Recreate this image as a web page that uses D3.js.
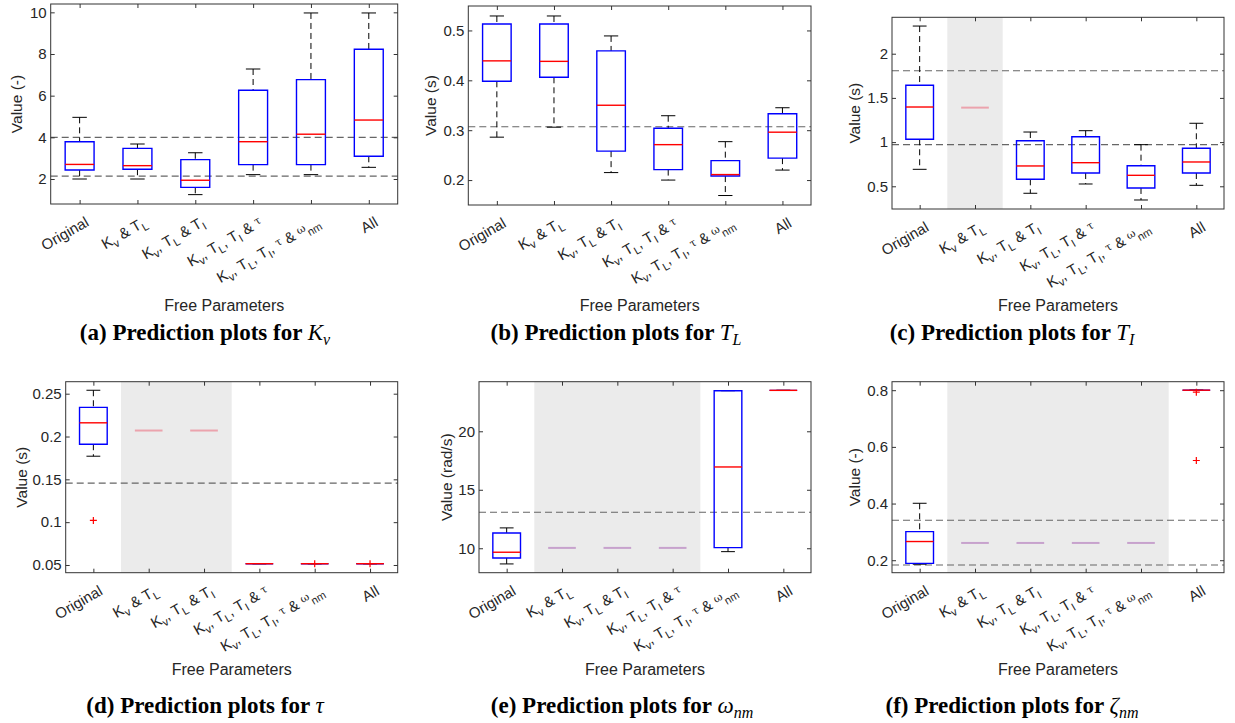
<!DOCTYPE html>
<html>
<head>
<meta charset="utf-8">
<script src="https://cdn.jsdelivr.net/npm/d3@7"></script>
<style>
  body { margin: 0; background: #fff; }
  svg { display: block; font-family: "Liberation Sans", Arial, sans-serif; }
  .axis path, .axis line { stroke: #333; }
  .axis text { fill: #262626; font-size: 15px; }
</style>
</head>
<body>
<script>
// categories shared by every panel
var categories = ["Original", "K_v & T_L", "K_v, T_L & T_I", "K_v, T_L, T_I & τ",
                  "K_v, T_L, T_I, τ & ω_{nm}", "All"];

// (a) K_v
var kvLo  = [2.00, 2.00, 1.25, 2.21, 2.21, 2.56];
var kvQ1  = [2.43, 2.47, 1.60, 2.69, 2.69, 3.09];
var kvMed = [2.70, 2.64, 1.94, 3.79, 4.15, 4.83];
var kvQ3  = [3.79, 3.47, 2.93, 6.26, 6.77, 8.23];
var kvHi  = [4.96, 3.68, 3.26, 7.28, 9.97, 9.97];
var kvRef = [4.0, 2.14];
var kvTicks = [2, 4, 6, 8, 10];

// (b) T_L
var tlLo  = [0.286, 0.306, 0.215, 0.200, 0.169, 0.220];
var tlQ1  = [0.398, 0.406, 0.258, 0.221, 0.208, 0.244];
var tlMed = [0.439, 0.438, 0.350, 0.271, 0.211, 0.296];
var tlQ3  = [0.513, 0.513, 0.459, 0.304, 0.239, 0.333];
var tlHi  = [0.529, 0.529, 0.489, 0.329, 0.277, 0.345];
var tlRef = [0.307];
var tlTicks = [0.2, 0.3, 0.4, 0.5];

// (c) T_I
var tiLo  = [0.692, 1.390, 0.421, 0.526, 0.345, 0.511];
var tiQ1  = [1.032, 1.390, 0.579, 0.650, 0.481, 0.650];
var tiMed = [1.397, 1.390, 0.730, 0.767, 0.624, 0.775];
var tiQ3  = [1.643, 1.390, 1.016, 1.061, 0.733, 0.930];
var tiHi  = [2.313, 1.390, 1.114, 1.129, 0.971, 1.213];
var tiRef = [1.808, 0.971];
var tiTicks = [0.5, 1, 1.5, 2];

// (d) tau
var tauLo  = [0.177, 0.207, 0.207, 0.0515, 0.0515, 0.0515];
var tauQ1  = [0.191, 0.207, 0.207, 0.0515, 0.0515, 0.0515];
var tauMed = [0.216, 0.207, 0.207, 0.0515, 0.0515, 0.0515];
var tauQ3  = [0.234, 0.207, 0.207, 0.0515, 0.0515, 0.0515];
var tauHi  = [0.254, 0.207, 0.207, 0.0515, 0.0515, 0.0515];
var tauOut = [[1, 0.102], [5, 0.0515], [6, 0.0515]];
var tauRef = [0.1456];
var tauTicks = [0.05, 0.1, 0.15, 0.2, 0.25];

// (e) omega_nm
var omLo  = [8.66, 10.03, 10.03, 10.03, 9.71, 23.5];
var omQ1  = [9.17, 10.03, 10.03, 10.03, 10.05, 23.5];
var omMed = [9.66, 10.03, 10.03, 10.03, 16.95, 23.5];
var omQ3  = [11.31, 10.03, 10.03, 10.03, 23.47, 23.5];
var omHi  = [11.74, 10.03, 10.03, 10.03, 23.47, 23.5];
var omRef = [13.08];
var omTicks = [10, 15, 20];

// (f) zeta_nm
var zeLo  = [0.186, 0.261, 0.261, 0.261, 0.261, 0.800];
var zeQ1  = [0.189, 0.261, 0.261, 0.261, 0.261, 0.800];
var zeMed = [0.266, 0.261, 0.261, 0.261, 0.261, 0.800];
var zeQ3  = [0.301, 0.261, 0.261, 0.261, 0.261, 0.800];
var zeHi  = [0.401, 0.261, 0.261, 0.261, 0.261, 0.800];
var zeOut = [[6, 0.793], [6, 0.552]];
var zeRef = [0.341, 0.183];
var zeTicks = [0.2, 0.4, 0.6, 0.8];

var panels = [
  {tag: "(a)", sym: "K", sub: "ν", ylab: "Value (-)", lo: kvLo, q1: kvQ1, med: kvMed, q3: kvQ3, hi: kvHi, out: [], ref: kvRef, ticks: kvTicks, dom: [0.80, 10.40], shade: null,
   x0: 50.7, x1: 397.7, y0: 4, y1: 204, yl: 17, cap: 205, row: 0},
  {tag: "(b)", sym: "T", sub: "L", ylab: "Value (s)", lo: tlLo, q1: tlQ1, med: tlMed, q3: tlQ3, hi: tlHi, out: [], ref: tlRef, ticks: tlTicks, dom: [0.150, 0.549], shade: null,
   x0: 468.3, x1: 811, y0: 6, y1: 205, yl: 431, cap: 616, row: 0},
  {tag: "(c)", sym: "T", sub: "I", ylab: "Value (s)", lo: tiLo, q1: tiQ1, med: tiMed, q3: tiQ3, hi: tiHi, out: [], ref: tiRef, ticks: tiTicks, dom: [0.243, 2.412], shade: [2, 2],
   x0: 892, x1: 1224, y0: 17.3, y1: 209, yl: 855, cap: 1012, row: 0, fade: "#eba3ad"},
  {tag: "(d)", sym: "τ", sub: "", ylab: "Value (s)", lo: tauLo, q1: tauQ1, med: tauMed, q3: tauQ3, hi: tauHi, out: tauOut, ref: tauRef, ticks: tauTicks, dom: [0.041, 0.264], shade: [2, 3],
   x0: 65.7, x1: 397.7, y0: 381.7, y1: 572.7, yl: 22, cap: 205, row: 1, fade: "#eba3ad"},
  {tag: "(e)", sym: "ω", sub: "nm", ylab: "Value (rad/s)", lo: omLo, q1: omQ1, med: omMed, q3: omQ3, hi: omHi, out: [], ref: omRef, ticks: omTicks, dom: [7.91, 24.24], shade: [2, 4],
   x0: 479, x1: 811, y0: 381.7, y1: 572.7, yl: 447, cap: 622, row: 1, fade: "#c7a2cd"},
  {tag: "(f)", sym: "ζ", sub: "nm", ylab: "Value (-)", lo: zeLo, q1: zeQ1, med: zeMed, q3: zeQ3, hi: zeHi, out: zeOut, ref: zeRef, ticks: zeTicks, dom: [0.156, 0.830], shade: [2, 5],
   x0: 892, x1: 1224, y0: 381.7, y1: 572.7, yl: 855, cap: 1012, row: 1, fade: "#c7a2cd"}
];

var svg = d3.select("body").append("svg")
  .attr("width", 1235).attr("height", 723);

// tick label with TeX-like subscripts and greek letters
function richText(text, str) {
  var re = /_\{([^}]*)\}|_(.)|([τω])|([^_τω]+)/g, m, off = 0;
  function put(s, to) {
    var t = text.append("tspan").attr("dy", to - off).text(s);
    off = to;
    return t;
  }
  while ((m = re.exec(str))) {
    if (m[1] !== undefined || m[2] !== undefined) {
      put(m[1] || m[2], 4).style("font-size", "11px");
    } else if (m[3]) {
      put(m[3], -3).style("font-family", "'DejaVu Serif', serif").style("font-size", "11px");
    } else {
      put(m[4], 0);
    }
  }
}

panels.forEach(function(p) {
  var x = d3.scaleLinear().domain([0.5, 6.5]).range([p.x0, p.x1]);
  var y = d3.scaleLinear().domain(p.dom).range([p.y1, p.y0]);
  var g = svg.append("g");
  var bw = 0.25, cw = 0.125;

  if (p.shade) {
    g.append("rect")
      .attr("x", x(p.shade[0] - 0.5)).attr("width", x(p.shade[1] + 0.5) - x(p.shade[0] - 0.5))
      .attr("y", p.y0).attr("height", p.y1 - p.y0)
      .attr("fill", "#ebebeb");
  }

  g.selectAll(".ref").data(p.ref).enter().append("line")
    .attr("x1", p.x0).attr("x2", p.x1)
    .attr("y1", function(d) { return y(d); }).attr("y2", function(d) { return y(d); })
    .attr("stroke", "#666").attr("stroke-width", 1.1).attr("stroke-dasharray", "7,4");

  d3.range(6).forEach(function(i) {
    var c = i + 1;
    var shaded = p.shade && c >= p.shade[0] && c <= p.shade[1];
    if (shaded) {
      g.append("line")
        .attr("x1", x(c - bw)).attr("x2", x(c + bw))
        .attr("y1", y(p.med[i])).attr("y2", y(p.med[i]))
        .attr("stroke", p.fade).attr("stroke-width", 2);
      return;
    }
    // whiskers
    [[p.hi[i], p.q3[i]], [p.q1[i], p.lo[i]]].forEach(function(w) {
      if (w[0] === w[1]) return;
      g.append("line").attr("x1", x(c)).attr("x2", x(c))
        .attr("y1", y(w[0])).attr("y2", y(w[1]))
        .attr("stroke", "#000").attr("stroke-width", 1).attr("stroke-dasharray", "6,4");
    });
    [p.hi[i], p.lo[i]].forEach(function(v) {
      g.append("line").attr("x1", x(c - cw)).attr("x2", x(c + cw))
        .attr("y1", y(v)).attr("y2", y(v))
        .attr("stroke", "#000").attr("stroke-width", 1);
    });
    // box
    g.append("path")
      .attr("d", "M" + x(c - bw) + "," + y(p.q1[i]) + "H" + x(c + bw) + "V" + y(p.q3[i]) +
                 "H" + x(c - bw) + "Z")
      .attr("fill", "none").attr("stroke", "#0000ff").attr("stroke-width", 1.4);
    g.append("line")
      .attr("x1", x(c - bw)).attr("x2", x(c + bw))
      .attr("y1", y(p.med[i])).attr("y2", y(p.med[i]))
      .attr("stroke", "#ff0000").attr("stroke-width", 1.4);
  });

  // outliers
  g.selectAll(".out").data(p.out).enter().append("path")
    .attr("transform", function(d) { return "translate(" + x(d[0]) + "," + y(d[1]) + ")"; })
    .attr("d", "M-3.5,0H3.5M0,-3.5V3.5")
    .attr("stroke", "#ff0000").attr("stroke-width", 1.2);

  // axes, ticks pointing inward on all four sides
  var fmt = function(d) { return String(d); };
  g.append("g").attr("class", "axis").attr("transform", "translate(" + p.x0 + ",0)")
    .call(d3.axisLeft(y).tickValues(p.ticks).tickSizeInner(-4).tickSizeOuter(0).tickPadding(4).tickFormat(fmt));
  g.append("g").attr("class", "axis").attr("transform", "translate(" + p.x1 + ",0)")
    .call(d3.axisRight(y).tickValues(p.ticks).tickSizeInner(-4).tickSizeOuter(0).tickFormat(""));
  g.append("g").attr("class", "axis").attr("transform", "translate(0," + p.y1 + ")")
    .call(d3.axisBottom(x).tickValues(d3.range(1, 7)).tickSizeInner(-4).tickSizeOuter(0).tickFormat(""));
  g.append("g").attr("class", "axis").attr("transform", "translate(0," + p.y0 + ")")
    .call(d3.axisTop(x).tickValues(d3.range(1, 7)).tickSizeInner(-4).tickSizeOuter(0).tickFormat(""));
  g.selectAll(".axis .domain").remove();
  g.append("rect")
    .attr("x", p.x0).attr("y", p.y0).attr("width", p.x1 - p.x0).attr("height", p.y1 - p.y0)
    .attr("fill", "none").attr("stroke", "#333").attr("stroke-width", 1);

  // rotated category labels
  categories.forEach(function(lab, i) {
    var t = g.append("g")
      .attr("transform", "translate(" + (x(i + 1) + 5) + "," + (p.y1 + 12) + ") rotate(-30)")
      .append("text").attr("y", 10.5).attr("text-anchor", "end")
      .style("font-size", "15px").attr("fill", "#262626");
    richText(t, lab);
  });

  g.append("text")
    .attr("transform", "translate(" + p.yl + "," + ((p.y0 + p.y1) / 2) + ") rotate(-90)")
    .attr("dy", "0.35em").attr("text-anchor", "middle")
    .style("font-size", "15.5px").attr("fill", "#262626").text(p.ylab);

  g.append("text")
    .attr("x", (p.x0 + p.x1) / 2).attr("y", p.row ? 675 : 311)
    .attr("text-anchor", "middle").style("font-size", "16px").attr("fill", "#262626")
    .text("Free Parameters");

  var cap = g.append("text")
    .attr("x", p.cap).attr("y", p.row ? 713 : 340)
    .attr("text-anchor", "middle")
    .style("font-family", "'Liberation Serif', 'Times New Roman', serif").style("font-size", "23px");
  cap.append("tspan").style("font-weight", "bold").text(p.tag + " Prediction plots for ");
  cap.append("tspan").style("font-style", "italic").text(p.sym);
  if (p.sub) {
    cap.append("tspan").attr("dy", 5).style("font-style", "italic").style("font-size", "16px").text(p.sub);
  }
});
</script>
</body>
</html>
